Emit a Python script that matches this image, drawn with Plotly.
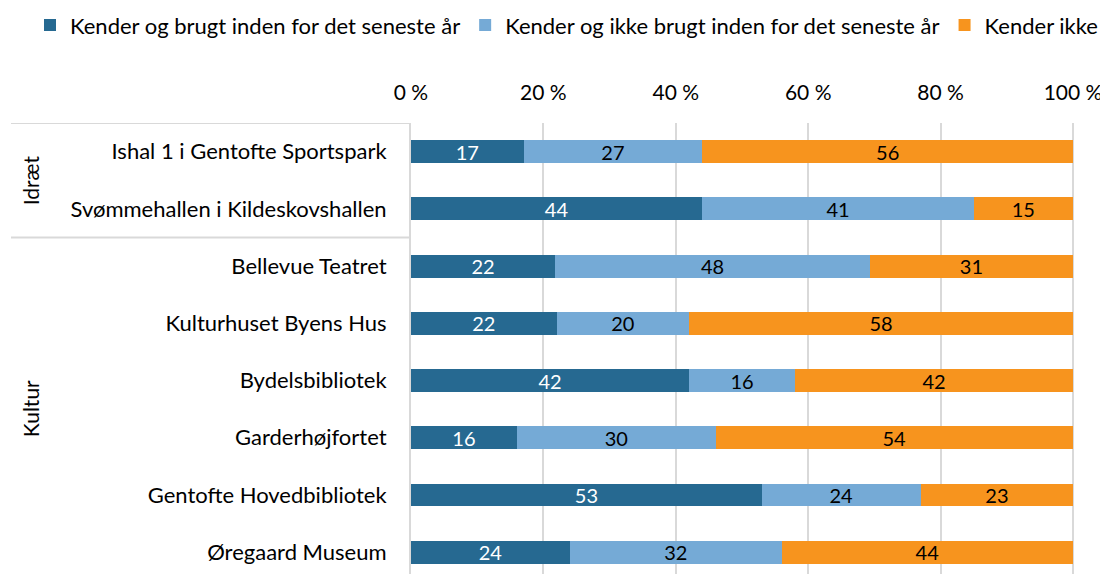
import plotly.graph_objects as go

categories = [
    "Ishal 1 i Gentofte Sportspark",
    "Svømmehallen i Kildeskovshallen",
    "Bellevue Teatret",
    "Kulturhuset Byens Hus",
    "Bydelsbibliotek",
    "Garderhøjfortet",
    "Gentofte Hovedbibliotek",
    "Øregaard Museum",
]
groups = ["Idræt", "Idræt", "Kultur", "Kultur", "Kultur", "Kultur", "Kultur", "Kultur"]

brugt = [17, 44, 22, 22, 42, 16, 53, 24]
ikke_brugt = [27, 41, 48, 20, 16, 30, 24, 32]
kender_ikke = [56, 15, 31, 58, 42, 54, 23, 44]

series_names = [
    "Kender og brugt inden for det seneste år",
    "Kender og ikke brugt inden for det seneste år",
    "Kender ikke",
]
tick_vals = [0, 20, 40, 60, 80, 100]
tick_text = ["0 %", "20 %", "40 %", "60 %", "80 %", "100 %"]

colors = ["#266991", "#75AAD6", "#F7941E"]
text_colors = ["white", "black", "black"]
FONT = "Lato"
GRID = "#D9D9D9"

# plot area spans to the right edge; 0-100 % occupies 662 of 697 px
X_MAX = 100 * 697 / 662
PLOT_W = 697
L = 403

def px_to_paper(px):
    return (px - L) / PLOT_W

fig = go.Figure()
for name, vals, col, tcol in zip(series_names, [brugt, ikke_brugt, kender_ikke], colors, text_colors):
    fig.add_trace(go.Bar(
        y=categories, x=vals, name=name, orientation="h",
        marker=dict(color=col, line=dict(width=0)),
        text=[str(v) for v in vals], texttemplate="%{text}",
        textposition="inside", insidetextanchor="middle", textangle=0,
        constraintext="none",
        textfont=dict(family=FONT, size=20, color=tcol),
        width=0.4,
    ))

# group labels and separators
group_names = []
for g in groups:
    if g not in group_names:
        group_names.append(g)
for g in group_names:
    idx = [i for i, gg in enumerate(groups) if gg == g]
    center = (idx[0] + idx[-1]) / 2
    fig.add_annotation(
        x=px_to_paper(22), xref="paper", xanchor="center", y=center, yref="y",
        yanchor="middle", text=g, textangle=-90,
        showarrow=False, font=dict(family=FONT, size=21, color="black"),
    )
    fig.add_shape(
        type="line", xref="paper", yref="y", x0=px_to_paper(3), x1=0,
        y0=idx[0] - 0.5, y1=idx[0] - 0.5, line=dict(color=GRID, width=2),
    )

fig.update_layout(
    barmode="stack", barnorm="percent",
    width=1100, height=566,
    margin=dict(l=L, r=0, t=115, b=0, autoexpand=False),
    plot_bgcolor="white", paper_bgcolor="white",
    font=dict(family=FONT, size=21, color="black"),
    showlegend=True,
    legend=dict(
        orientation="h", x=px_to_paper(22), xanchor="left", y=1.217, yanchor="middle",
        font=dict(family=FONT, size=22, color="black"),
        traceorder="normal",
    ),
    xaxis=dict(
        side="top", range=[0, X_MAX], tickvals=tick_vals, ticktext=tick_text,
        showgrid=True, gridcolor=GRID, gridwidth=2, zeroline=False,
        ticklabelstandoff=18, ticks="", showline=False,
        tickfont=dict(family=FONT, size=21, color="black"),
    ),
    yaxis=dict(
        type="category", range=[7.38, -0.5], showgrid=False,
        showline=True, linecolor=GRID, linewidth=2,
        ticks="", ticklabelstandoff=18,
        tickfont=dict(family=FONT, size=22, color="black"),
    ),
)

fig.write_html("out.html")
